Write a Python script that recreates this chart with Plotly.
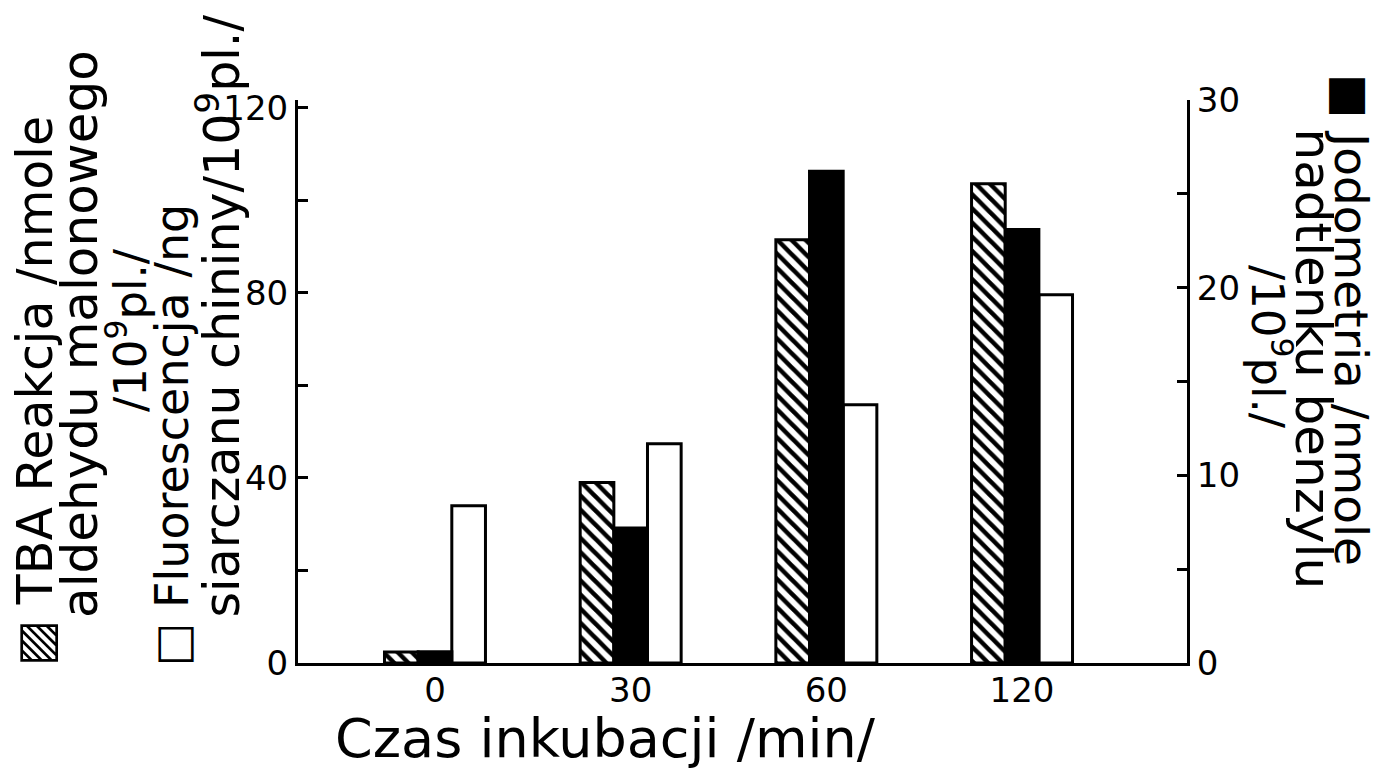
import plotly.graph_objects as go

# ---- data ----
categories = ["0", "30", "60", "120"]          # Czas inkubacji /min/
tba_values = [2.4, 39, 91.5, 103.6]            # left axis, hatched
fluor_values = [34, 47.4, 55.8, 79.6]          # left axis, white
jodo_values = [0.6, 7.2, 26.2, 23.1]           # right axis, black
left_ticks = [0, 20, 40, 60, 80, 100, 120]
left_labels = ["0", "", "40", "", "80", "", "120"]
right_ticks = [0, 5, 10, 15, 20, 25, 30]
right_labels = ["0", "", "10", "", "20", "", "30"]

W, H = 1383, 771
L, R, T, B = 298, 1187, 100, 663
FONT = "DejaVu Sans"

def px(x):
    return (x - L) / (R - L)

def py(y):
    return (B - y) / (B - T)

xpos = list(range(len(categories)))
bw = 0.172

fig = go.Figure()
fig.add_trace(go.Bar(
    x=xpos, y=tba_values, width=bw, offset=-1.5 * bw, yaxis="y",
    marker=dict(color="white", line=dict(color="black", width=3),
                pattern=dict(shape="\\", fgcolor="black", bgcolor="white",
                             fgopacity=1, size=10, solidity=0.45)),
    name="TBA"))
fig.add_trace(go.Bar(
    x=xpos, y=jodo_values, width=bw, offset=-0.5 * bw, yaxis="y2",
    marker=dict(color="black", line=dict(color="black", width=3)),
    name="Jodometria"))
fig.add_trace(go.Bar(
    x=xpos, y=fluor_values, width=bw, offset=0.5 * bw, yaxis="y",
    marker=dict(color="white", line=dict(color="black", width=3)),
    name="Fluorescencja"))

fig.update_layout(
    width=W, height=H,
    margin=dict(l=L, r=W - R, t=T, b=H - B, pad=0),
    paper_bgcolor="white", plot_bgcolor="white",
    showlegend=False, barmode="overlay",
    font=dict(family=FONT, color="black"),
    xaxis=dict(range=[-0.7, 3.843], tickvals=xpos, ticktext=categories,
               showline=True, linecolor="black", linewidth=3, ticks="",
               showgrid=False, zeroline=False, ticklabelstandoff=-5,
               tickfont=dict(size=34, family=FONT)),
    yaxis=dict(range=[0, 121.7], tickvals=left_ticks, ticktext=left_labels,
               showline=True, linecolor="black", linewidth=3,
               ticks="inside", ticklen=10, tickwidth=3, tickcolor="black",
               showgrid=False, zeroline=False,
               tickfont=dict(size=34, family=FONT)),
    yaxis2=dict(range=[0, 30], tickvals=right_ticks, ticktext=right_labels,
                overlaying="y", side="right",
                showline=True, linecolor="black", linewidth=3,
                ticks="inside", ticklen=10, tickwidth=3, tickcolor="black",
                showgrid=False, zeroline=False,
                tickfont=dict(size=34, family=FONT)),
)

ann = []
def add(text, x, y, angle, xanchor="center", yanchor="middle", size=40):
    ann.append(dict(text=text, x=px(x), y=py(y), xref="paper", yref="paper",
                    textangle=angle, showarrow=False, xanchor=xanchor,
                    yanchor=yanchor, font=dict(size=size, family=FONT, color="black")))

# bottom title
add("Czas inkubacji /min/", 605, 738, 0, size=54)
# left titles (rotated -90)
add("▨ TBA Reakcja /nmole", 35, 668, -90, yanchor="bottom", size=49)
add("aldehydu malonowego", 80, 620, -90, yanchor="bottom", size=50)
add("/10<sup>9</sup>pl./", 127, 330, -90, size=45)
add("□ Fluorescencja /ng", 172, 668, -90, yanchor="bottom", size=46)
add("siarczanu chininy/10<sup>9</sup>pl./", 219, 620, -90, yanchor="bottom", size=49)
# right titles (rotated 90)
add("■ Jodometria /nmole", 1352, 72, 90, yanchor="top", size=47)
add("nadtlenku benzylu", 1313, 126, 90, yanchor="top", size=50)
add("/10<sup>9</sup>pl./", 1271, 347, 90, size=45)

fig.update_layout(annotations=ann)
fig.write_html("out.html", config={"displayModeBar": False},
               post_script="document.body.style.margin='0';document.body.style.overflow='hidden';")
